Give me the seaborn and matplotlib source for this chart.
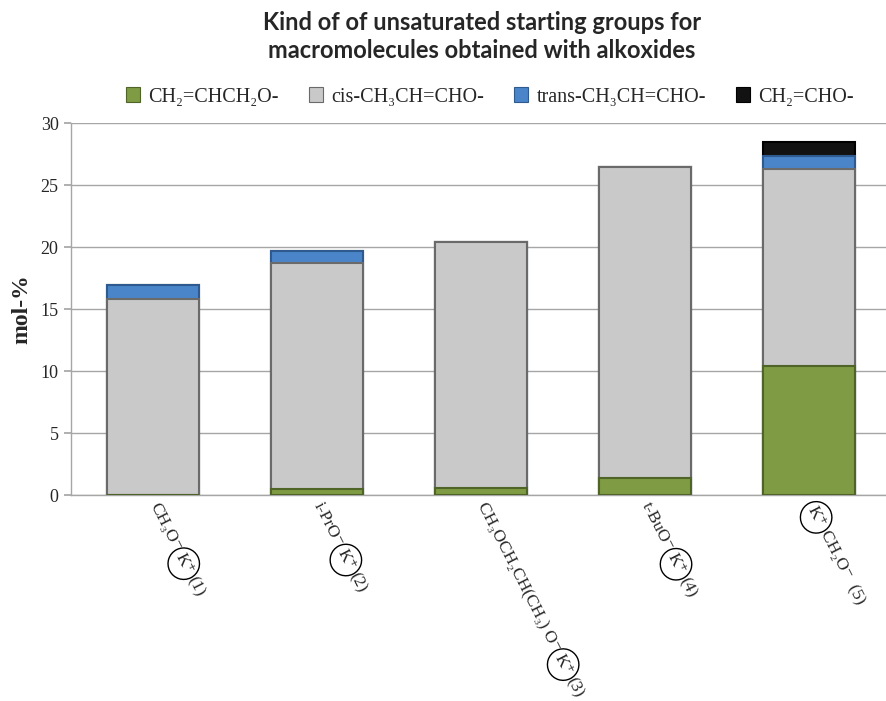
import math
import numpy as np
import pandas as pd
import matplotlib
matplotlib.use("Agg")
import matplotlib.pyplot as plt
import matplotlib.transforms as mtransforms
from matplotlib.patches import Patch
import seaborn as sns

# ---- data (mol-%) ----
catalysts = ["1", "2", "3", "4", "5"]
allyl = [0.0, 0.5, 0.6, 1.4, 10.4]        # CH2=CHCH2O-
cis_propenyl = [15.8, 18.2, 19.8, 25.05, 15.9]   # cis-CH3CH=CHO-
trans_propenyl = [1.1, 1.0, 0.0, 0.0, 1.0]  # trans-CH3CH=CHO-
vinyl = [0.0, 0.0, 0.0, 0.0, 1.2]          # CH2=CHO-

series_names = ["CH₂=CHCH₂O-", "cis-CH₃CH=CHO-", "trans-CH₃CH=CHO-", "CH₂=CHO-"]
series_colors = ["#7F9B43", "#C9C9C9", "#4A85C9", "#121212"]
edge_colors = ["#4F6427", "#6A6A6A", "#2F5A8F", "#000000"]

# tick label pieces: (text, circled)
tick_pieces = [
    [("CH₃O⁻", False), ("K⁺", True), ("(1)", False)],
    [("i-PrO⁻", False), ("K⁺", True), ("(2)", False)],
    [("CH₃OCH₂CH(CH₃) O⁻", False), ("K⁺", True), ("(3)", False)],
    [("t-BuO⁻", False), ("K⁺", True), ("(4)", False)],
    [("K⁺", True), ("CH₂O⁻  (5)", False)],
]

SERIF = ["Liberation Serif", "DejaVu Serif"]

sns.set_theme(style="white")
plt.rcParams["font.family"] = SERIF

fig = plt.figure(figsize=(8.86, 7.01), dpi=100)
ax = fig.add_axes([71 / 886, 206 / 701, 820 / 886, 372 / 701])

layers = [allyl, cis_propenyl, trans_propenyl, vinyl]
cum = np.cumsum(np.array(layers), axis=0)

# stacked bars: draw cumulative totals from the top layer down
for i in range(len(layers) - 1, -1, -1):
    df = pd.DataFrame({"cat": catalysts, "val": cum[i]})
    sns.barplot(data=df, x="cat", y="val", color=series_colors[i],
                width=0.56, edgecolor=edge_colors[i], linewidth=1.5,
                saturation=1, ax=ax, zorder=3)

ax.set_xlim(-0.5, 4.5)
ax.set_ylim(0, 30)
ax.set_yticks(np.arange(0, 31, 5))
ax.yaxis.grid(True, color="#A6A6A6", linewidth=1.0, zorder=0)
ax.xaxis.grid(False)
for s in ["top", "right"]:
    ax.spines[s].set_visible(False)
for s in ["left", "bottom"]:
    ax.spines[s].set_color("#A6A6A6")
    ax.spines[s].set_linewidth(1.0)
ax.tick_params(axis="y", which="major", left=True, length=5, color="#A6A6A6",
               labelsize=13, pad=4)
ax.tick_params(axis="x", bottom=False, labelbottom=False)
for lab in ax.get_yticklabels():
    lab.set_fontfamily(SERIF)
ax.set_xlabel("")
ax.set_ylabel("mol-%", fontsize=17, fontweight="bold", family=SERIF, labelpad=6)

# rotated category labels built from pieces, with a circled K+
fig.canvas.draw()
renderer = fig.canvas.get_renderer()
angle = -63
fs = 12.5
dxu, dyu = math.cos(math.radians(angle)), math.sin(math.radians(angle))
px2pt = 72 / fig.dpi
pad_pt = 3.5
base = ax.get_xaxis_transform()
for xi, pieces in enumerate(tick_pieces):
    off = 0.0  # points along the label direction
    for txt, circled in pieces:
        tmp = fig.text(0, 0, txt, fontsize=fs, family=SERIF)
        bb = tmp.get_window_extent(renderer)
        w, h = bb.width * px2pt, bb.height * px2pt
        tmp.remove()
        if circled:
            r = max(w, h) / 2 + pad_pt
            off += r - w / 2
        tr = base + mtransforms.ScaledTranslation(
            off * dxu / 72, (off * dyu - 6) / 72, fig.dpi_scale_trans)
        kw = {}
        if circled:
            kw["bbox"] = dict(boxstyle=f"circle,pad={pad_pt / fs:.2f}", fc="none",
                              ec="black", lw=1.0)
        ax.text(xi, 0, txt, transform=tr, rotation=angle, rotation_mode="anchor",
                ha="left", va="center", fontsize=fs, family=SERIF,
                clip_on=False, **kw)
        off += w
        if circled:
            off += r - w / 2

# title
fig.text(0.544, 1 - 22 / 701, "Kind of of unsaturated starting groups for",
         ha="center", va="center", fontsize=17, fontweight="bold", family="Lato")
fig.text(0.544, 1 - 50 / 701, "macromolecules obtained with alkoxides",
         ha="center", va="center", fontsize=17, fontweight="bold", family="Lato")

# legend
handles = [Patch(facecolor=c, edgecolor=e, linewidth=0.8)
           for c, e in zip(series_colors, edge_colors)]
fig.legend(handles, series_names, loc="center", bbox_to_anchor=(0.553, 1 - 97 / 701),
           ncol=4, frameon=False, prop={"family": SERIF, "size": 14.5},
           handlelength=0.7, handleheight=0.7, handletextpad=0.4, columnspacing=1.5)

fig.savefig("out.png", dpi=100)
